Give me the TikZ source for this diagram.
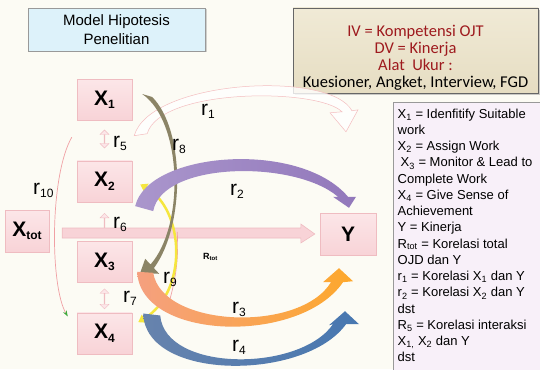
\documentclass[tikz,border=0pt]{standalone}
\usepackage{fontspec}
\setmainfont{Liberation Sans}
\newfontfamily\calibrifont{Carlito}
\usepackage{xcolor}
\definecolor{colorBack}{HTML}{FCFBF4}
\definecolor{colorBox}{HTML}{F8D3D7}
\definecolor{colorBoxTop}{HTML}{FCE6E8}
\definecolor{colorBoxLine}{HTML}{EFBCC1}
\definecolor{colorTitle}{HTML}{DDF2FA}
\definecolor{colorNoteTop}{HTML}{F0EAD6}
\definecolor{colorNote}{HTML}{E6DDC2}
\definecolor{colorNoteText}{HTML}{9E1A1E}
\definecolor{colorLegend}{HTML}{F8F0F9}
\definecolor{colorPurpleA}{HTML}{AA96CC}
\definecolor{colorPurpleB}{HTML}{9278BB}
\definecolor{colorSalmon}{HTML}{F5A07F}
\definecolor{colorOrange}{HTML}{FDA82C}
\definecolor{colorBlueA}{HTML}{6783AD}
\definecolor{colorBlueB}{HTML}{4777B0}
\definecolor{colorOlive}{HTML}{8B8466}
\definecolor{colorYellow}{HTML}{F5E63E}
\definecolor{colorThin}{HTML}{F0A0A4}
\definecolor{colorGreen}{HTML}{3FAA3C}
\usepackage{tikz}
\usetikzlibrary{arrows.meta, positioning, calc, shapes.arrows, shadows}
\newcommand{\rsub}[1]{\raisebox{-3.5pt}{\fontsize{12}{12}\selectfont #1}}
\tikzset{
  varbox/.style={draw=colorBoxLine, top color=colorBoxTop, bottom color=colorBox, minimum width=55pt, minimum height=41pt, inner sep=0pt, font=\fontsize{21}{21}\selectfont\bfseries},
  rlabel/.style={anchor=base west, inner sep=0pt, font=\fontsize{21}{21}\selectfont},
  pairarrow/.style={double arrow, shape border rotate=90, draw=colorBoxLine, fill=colorBoxTop, minimum width=9pt, double arrow head extend=2pt, inner sep=0pt},
  uparrow/.style={single arrow, shape border rotate=90, draw=colorBoxLine, fill=colorBoxTop, minimum width=9pt, single arrow head extend=2pt, inner sep=0pt},
  fatband/.style={draw=colorBoxLine, fill=colorBox, line width=0.6pt},
  outlinearrow/.style={draw=colorThin!70, fill=white, fill opacity=0.8, line width=0.5pt},
  thinlink/.style={draw=colorThin, line width=0.7pt},
}

\begin{document}
\begin{tikzpicture}[x=1pt, y=-1pt, >=Stealth]
\useasboundingbox (0,0) rectangle (540,369);
\fill[colorBack] (0,0) rectangle (540,369);

\node[draw=gray!80, fill=colorTitle, minimum width=177pt, minimum height=43pt, align=center, font=\fontsize{15}{19}\selectfont, drop shadow={shadow xshift=1.5pt, shadow yshift=-1.5pt, opacity=0.35}] (title) at (116.5,29.5) {Model Hipotesis\\Penelitian};
\node[draw=black!60, top color=colorNoteTop, bottom color=colorNote, minimum width=245pt, minimum height=85pt, drop shadow={shadow xshift=2pt, shadow yshift=-2pt, opacity=0.4}] (note) at (415.5,50.5) {};
\node[align=center, inner sep=0pt, font=\calibrifont\fontsize{16.5}{17}\selectfont] (notetext) at (415.5,58) {\textcolor{colorNoteText}{IV = Kompetensi OJT}\\\textcolor{colorNoteText}{DV = Kinerja}\\\textcolor{colorNoteText}{Alat\ \ Ukur :}\\Kuesioner, Angket, Interview, FGD};
\draw[draw=gray!80, fill=colorLegend] (393.5,102.5) rectangle (560,400);
\node[anchor=north west, inner xsep=4pt, inner ysep=6pt, align=left, font=\fontsize{13}{16.25}\selectfont] (legend) at (393.5,102.5) {X\textsubscript{1} = Idenfitify Suitable\\work\\X\textsubscript{2} = Assign Work\\\hspace*{3pt}X\textsubscript{3} = Monitor \& Lead to\\Complete Work\\X\textsubscript{4} = Give Sense of\\Achievement\\Y = Kinerja\\R\textsubscript{tot} = Korelasi total\\OJD dan Y\\r\textsubscript{1} = Korelasi X\textsubscript{1} dan Y\\r\textsubscript{2} = Korelasi X\textsubscript{2} dan Y\\dst\\R\textsubscript{5} = Korelasi interaksi\\X\textsubscript{1,} X\textsubscript{2} dan Y\\dst};

\node[varbox] (X1) at (104.5,100) {X\rsub{1}};
\node[varbox, below=40pt of X1] (X2) {X\rsub{2}};
\node[varbox, below=39pt of X2] (X3) {X\rsub{3}};
\node[varbox, below=30pt of X3] (X4) {X\rsub{4}};
\node[varbox, minimum width=44pt, minimum height=42pt] (Xtot) at (27,231) {X\rsub{tot}};
\node[varbox, minimum width=56pt, minimum height=42pt] (Y) at (348,234) {Y};

\node[pairarrow, minimum height=18pt, below=9pt of X1] (r5arrow) {};
\node[uparrow, minimum height=15pt, below=11pt of X2] (r6arrow) {};
\node[pairarrow, minimum height=20pt, below=6pt of X3] (r7arrow) {};

\draw[thinlink, -{Stealth[length=6pt, width=4pt, color=colorGreen]}] ($(X1.south west)+(-5,16.5)$) .. controls +(-22,38) and +(-18,-31) .. ($(X4.north west)+(-9,4)$);
\path[outlinearrow] ($(X1.south east)+(2,15)$) .. controls +(16,-56) and +(-22,-41) .. ($(Y.north)+(4,-102)$) -- ++(6,-1) -- ($(Y.north)+(-2,-81)$) -- ($(Y.north)+(-18,-100)$) -- ++(12,-1) .. controls +(-24,-24) and +(13,-46) .. ($(X1.south east)+(15,13)$) -- cycle;
\path[fatband] ($(Xtot.east)+(13,-3)$) -- ($(Y.west)+(-19,-6)$) -- ++(0,-4) -- ($(Y.west)+(-5,0)$) -- ($(Y.west)+(-19,9)$) -- ++(0,-5) -- ($(Xtot.east)+(13,7)$) -- cycle;
\draw[thinlink] ($(X3.east)+(45,-30)$) .. controls +(2,30) and +(6,-20) .. ($(X4.east)+(36,-28)$);
\draw[draw=colorYellow, line width=2.5pt, {Triangle[length=7pt, width=9pt]}-{Triangle[length=7pt, width=9pt]}] ($(X2.east)+(8,3)$) .. controls +(45,25) and +(50,-30) .. ($(X4.east)+(6,-11)$);
\path[top color=colorOlive, middle color=colorThin!70!white, bottom color=colorOlive] ($(X1.east)+(20,-3)$) .. controls +(33,33) and +(31.3,-42.3) .. ($(X3.east)+(21.7,6.3)$) -- ($(X3.east)+(27,12)$) -- ($(X3.east)+(8,11)$) -- ($(X3.east)+(13,-3)$) -- ($(X3.east)+(18.3,2.7)$) .. controls +(34.2,-38.7) and +(40.5,28) .. ($(X1.east)+(10,-6)$) -- cycle;
\path[left color=colorPurpleA, right color=colorPurpleB] ($(X2.south east)+(3,4)$) .. controls +(13,-55) and +(-48,-57) .. ($(Y.north)+(0,-16)$) -- ++(8,0) -- ($(Y.north)+(1,-5)$) -- ($(Y.north)+(-15,-16)$) -- ++(5,0) .. controls +(-43,-37) and +(9,-50) .. ($(X2.south east)+(21,9)$) -- cycle;
\path[left color=colorSalmon, right color=colorOrange] ($(X3.east)+(5,10)$) .. controls +(3,69) and +(-43,63) .. ($(Y.south)+(-5,27)$) -- ++(10,-1) -- ($(Y.south)+(-9,13)$) -- ($(Y.south)+(-25,27)$) -- ++(8,0) .. controls +(-31,51) and +(9,55) .. ($(X3.east)+(21,11)$) -- cycle;
\path[left color=colorBlueA, right color=colorBlueB] ($(X4.north east)+(11,1)$) .. controls +(2,68) and +(-41,57) .. ($(Y.south)+(-2,69)$) -- ++(13,0) -- ($(Y.south)+(-3,56)$) -- ($(Y.south)+(-19,70)$) -- ++(4,-1) .. controls +(-33,48) and +(5,57) .. ($(X4.north east)+(28,3)$) -- cycle;

\node[rlabel] (lr1) at (201,115) {r\rsub{1}};
\node[rlabel] (lr2) at (230,195) {r\rsub{2}};
\node[rlabel] (lr3) at (232,313) {r\rsub{3}};
\node[rlabel] (lr4) at (232,351) {r\rsub{4}};
\node[rlabel] (lr5) at (113,147) {r\rsub{5}};
\node[rlabel] (lr6) at (113,228) {r\rsub{6}};
\node[rlabel] (lr7) at (123,302) {r\rsub{7}};
\node[rlabel] (lr8) at (172,150) {r\rsub{8}};
\node[rlabel] (lr9) at (163,283) {r\rsub{9}};
\node[rlabel] (lr10) at (33,194) {r\rsub{10}};
\node[anchor=base west, inner sep=0pt, font=\fontsize{9}{9}\selectfont\bfseries] (lrtot) at (203,259) {R\textsubscript{tot}};
\end{tikzpicture}
\end{document}
